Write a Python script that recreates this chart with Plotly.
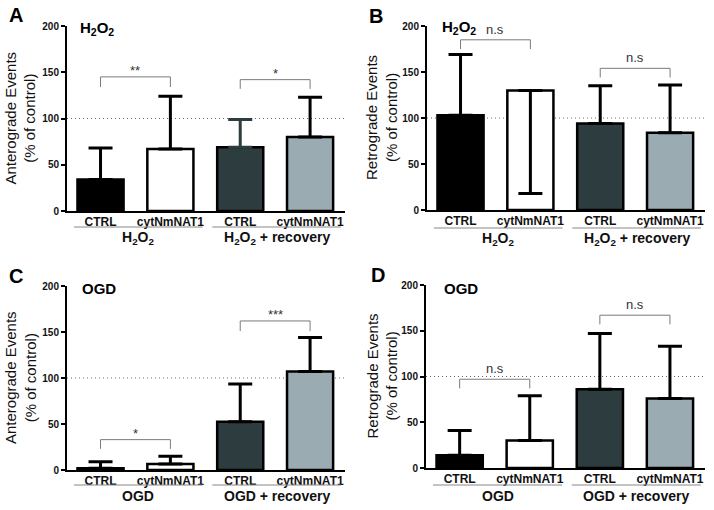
import plotly.graph_objects as go

# ---------------- data ----------------
categories = ["CTRL", "cytNmNAT1", "CTRL", "cytNmNAT1"]
groups_h2o2 = ["H<sub>2</sub>O<sub>2</sub>", "H<sub>2</sub>O<sub>2</sub> + recovery"]
groups_ogd = ["OGD", "OGD + recovery"]
bar_colors = ["#000000", "#ffffff", "#2c3c3f", "#9aabb1"]

a_mean = [34, 67, 69, 80]
a_err_up = [34, 57, 30, 43]
a_err_down = [0, 0, 0, 0]

b_mean = [103, 130, 94, 84]
b_err_up = [66, 0, 41, 52]
b_err_down = [0, 112, 0, 0]

c_mean = [2, 6.5, 52.5, 107]
c_err_up = [7, 8.5, 41, 37]
c_err_down = [0, 0, 0, 0]

d_mean = [14, 30, 86, 76]
d_err_up = [27, 49, 61, 57]
d_err_down = [0, 0, 0, 0]

# brackets: (left bar, right bar, top level, tick-end level, label)
a_brackets = [(0, 1, 145, 134, "**"), (2, 3, 142, 132, "*")]
b_brackets = [(0, 1, 185, 175, "n.s"), (2, 3, 154, 144, "n.s")]
c_brackets = [(0, 1, 33, 23, "*"), (2, 3, 162, 151, "***")]
d_brackets = [(0, 1, 97, 87, "n.s"), (2, 3, 167, 157, "n.s")]

W, H = 714, 510
FONT = "Liberation Sans, Arial, Helvetica, sans-serif"

panels = [
    dict(key="", letter="A", cond="H<sub>2</sub>O<sub>2</sub>", groups=groups_h2o2,
         ytitle="Anterograde Events<br>(% of control)",
         mean=a_mean, up=a_err_up, dn=a_err_down, brackets=a_brackets,
         err_colors=["#000000", "#000000", "#2c3c3f", "#000000"],
         px_x=(67, 345), px_y=(26, 211), letter_xy=(16, 15), cond_xy=(78, 28),
         ytitle_x=20, under_y=227, glabel_y=238),
    dict(key="2", letter="B", cond="H<sub>2</sub>O<sub>2</sub>", groups=groups_h2o2,
         ytitle="Retrograde Events<br>(% of control)",
         mean=b_mean, up=b_err_up, dn=b_err_down, brackets=b_brackets,
         err_colors=["#000000"] * 4,
         px_x=(427, 705), px_y=(26, 210), letter_xy=(376, 16), cond_xy=(440, 27),
         ytitle_x=382, under_y=228, glabel_y=239),
    dict(key="3", letter="C", cond="OGD", groups=groups_ogd,
         ytitle="Anterograde Events<br>(% of control)",
         mean=c_mean, up=c_err_up, dn=c_err_down, brackets=c_brackets,
         err_colors=["#000000"] * 4,
         px_x=(67, 345), px_y=(286, 470), letter_xy=(16, 276), cond_xy=(80, 288),
         ytitle_x=20, under_y=485, glabel_y=496),
    dict(key="4", letter="D", cond="OGD", groups=groups_ogd,
         ytitle="Retrograde Events<br>(% of control)",
         mean=d_mean, up=d_err_up, dn=d_err_down, brackets=d_brackets,
         err_colors=["#000000"] * 4,
         px_x=(426, 705), px_y=(285, 468), letter_xy=(378, 275), cond_xy=(442, 288),
         ytitle_x=382, under_y=485, glabel_y=496),
]

fig = go.Figure()
annotations = []
shapes = []
positions = list(range(len(categories)))
XR = [-0.48, 3.5]

for p in panels:
    k = p["key"]
    xa, ya = "x" + k, "y" + k
    for i in positions:
        fig.add_trace(go.Bar(
            x=[positions[i]], y=[p["mean"][i]], width=0.66,
            marker=dict(color=bar_colors[i], line=dict(color="#000000", width=2.5)),
            error_y=dict(type="data", symmetric=False, array=[p["up"][i]],
                         arrayminus=[p["dn"][i]], thickness=3, width=12,
                         color=p["err_colors"][i]),
            xaxis=xa, yaxis=ya, showlegend=False, hoverinfo="skip",
        ))
    x0, x1 = p["px_x"]
    ytop, ybot = p["px_y"]
    xdom = [x0 / W, x1 / W]
    ydom = [(H - ybot) / H, (H - ytop) / H]
    fig.layout["xaxis" + k] = dict(
        domain=xdom, range=XR, anchor=ya, showgrid=False, zeroline=False,
        showline=True, linecolor="#000000", linewidth=2, ticks="",
        tickvals=positions, ticktext=categories, ticklabelstandoff=-1,
        tickfont=dict(family=FONT, size=12, color="#111111", weight="bold"),
        fixedrange=True, automargin=False,
    )
    fig.layout["yaxis" + k] = dict(
        domain=ydom, range=[0, 200], anchor=xa, showgrid=False, zeroline=False,
        showline=True, linecolor="#000000", linewidth=2, ticks="outside",
        ticklen=4, tickwidth=1.5, tickcolor="#000000",
        tickvals=[0, 50, 100, 150, 200],
        tickfont=dict(family=FONT, size=10, color="#111111", weight="bold"),
        fixedrange=True, automargin=False,
    )
    # dotted reference line at 100
    shapes.append(dict(type="line", xref=xa + " domain", yref=ya, x0=0, x1=1,
                       y0=100, y1=100, layer="below",
                       line=dict(color="#666666", width=1, dash="1px,3px")))
    # significance brackets
    for (l, r, top, tick, lab) in p["brackets"]:
        shapes.append(dict(type="path", xref=xa, yref=ya,
                           path=f"M {l},{tick} L {l},{top} L {r},{top} L {r},{tick}",
                           line=dict(color="#7a7a7a", width=1)))
        is_star = "*" in lab
        annotations.append(dict(xref=xa, yref=ya, x=(l + r) / 2, y=top,
                                text=lab, showarrow=False, yanchor="bottom",
                                yshift=-3 if is_star else 1,
                                font=dict(family=FONT, size=13, color="#333333")))
    # group underline + label
    for g, (gx0, gx1) in enumerate([(-0.38, 1.46), (1.6, 3.44)]):
        shapes.append(dict(type="line", xref=xa, yref="paper", x0=gx0, x1=gx1,
                           y0=(H - p["under_y"]) / H, y1=(H - p["under_y"]) / H,
                           line=dict(color="#888888", width=1)))
        annotations.append(dict(xref=xa, yref="paper", x=(gx0 + gx1) / 2,
                                y=(H - p["glabel_y"]) / H, text=p["groups"][g],
                                showarrow=False, yanchor="middle",
                                font=dict(family=FONT, size=14, color="#111111",
                                          weight="bold")))
    # panel letter
    annotations.append(dict(xref="paper", yref="paper", x=p["letter_xy"][0] / W,
                            y=(H - p["letter_xy"][1]) / H, text=p["letter"],
                            showarrow=False, xanchor="center", yanchor="middle",
                            font=dict(family=FONT, size=20, color="#000000",
                                      weight="bold")))
    # condition label inside plot
    annotations.append(dict(xref="paper", yref="paper", x=p["cond_xy"][0] / W,
                            y=(H - p["cond_xy"][1]) / H, text=p["cond"],
                            showarrow=False, xanchor="left", yanchor="middle",
                            font=dict(family=FONT, size=15, color="#000000",
                                      weight="bold")))
    # y-axis title
    annotations.append(dict(xref="paper", yref="paper", x=p["ytitle_x"] / W,
                            y=(H - (ytop + ybot) / 2) / H, text=p["ytitle"],
                            textangle=-90, showarrow=False, xanchor="center",
                            yanchor="middle",
                            font=dict(family=FONT, size=15, color="#111111")))

fig.update_layout(
    width=W, height=H, margin=dict(l=0, r=0, t=0, b=0, autoexpand=False),
    paper_bgcolor="#ffffff", plot_bgcolor="#ffffff",
    barmode="overlay", showlegend=False,
    annotations=annotations, shapes=shapes,
    font=dict(family=FONT),
)

fig.write_html("out.html", config={"displayModeBar": False},
               post_script="document.body.style.margin='0';document.body.style.overflow='hidden';")
